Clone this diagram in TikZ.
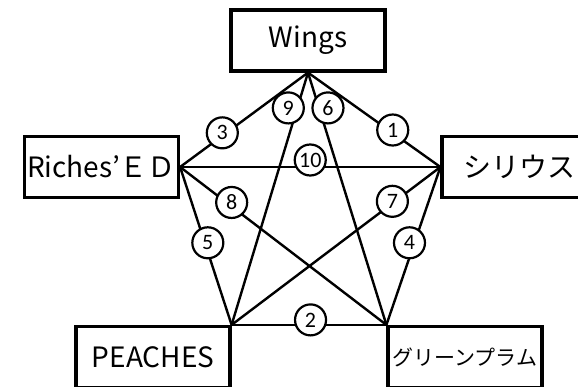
\documentclass[tikz,border=0pt]{standalone}
\usepackage{fontspec}
\setmainfont{Noto Sans CJK JP}
\newfontfamily\numfont{Carlito}
\usepackage{tikz}

\tikzset{
  shop/.style={draw, line width=3.2pt, minimum width=154pt, minimum height=61pt, inner sep=0pt, font=\fontsize{28}{30}\selectfont},
  route/.style={line width=2.4pt},
  num/.style={circle, draw, fill=white, line width=2.2pt, minimum size=31pt, inner sep=0pt, font=\numfont\fontsize{22}{22}\selectfont}
}

\begin{document}
\begin{tikzpicture}[x=1pt,y=-1pt]
\useasboundingbox (0,0) rectangle (578,387);
\node[shop] (wings) at (308,40.5) {Wings};
\node[shop] (riches) at (101.5,167) {Riches’ＥＤ};
\node[shop] (sirius) at (519,167) {シリウス};
\node[shop] (peaches) at (153,357) {PEACHES};
\node[shop,font=\fontsize{21}{23}\selectfont] (plum) at (465,357) {グリーンプラム};
\draw[route] (wings.south) -- node[num,pos=0.67,yshift=3pt]{3} (riches.east);
\draw[route] (wings.south) -- node[num,pos=0.64,yshift=3pt]{1} (sirius.west);
\draw[route] (wings.south) -- node[num,pos=0.14,xshift=-9pt]{9} (peaches.north east);
\draw[route] (wings.south) -- node[num,pos=0.14,xshift=9pt]{6} (plum.north west);
\draw[route] (riches.east) -- node[num,pos=0.5,yshift=7pt]{10} (sirius.west);
\draw[route] (riches.east) -- node[num,pos=0.25,yshift=4pt]{8} (plum.north west);
\draw[route] (sirius.west) -- node[num,pos=0.23,yshift=2pt]{7} (peaches.north east);
\draw[route] (riches.east) -- node[num,pos=0.48,xshift=3pt]{5} (peaches.north east);
\draw[route] (sirius.west) -- node[num,pos=0.48,xshift=-5pt]{4} (plum.north west);
\draw[route] (peaches.north east) -- node[num,pos=0.51,yshift=5pt]{2} (plum.north west);
\end{tikzpicture}
\end{document}
